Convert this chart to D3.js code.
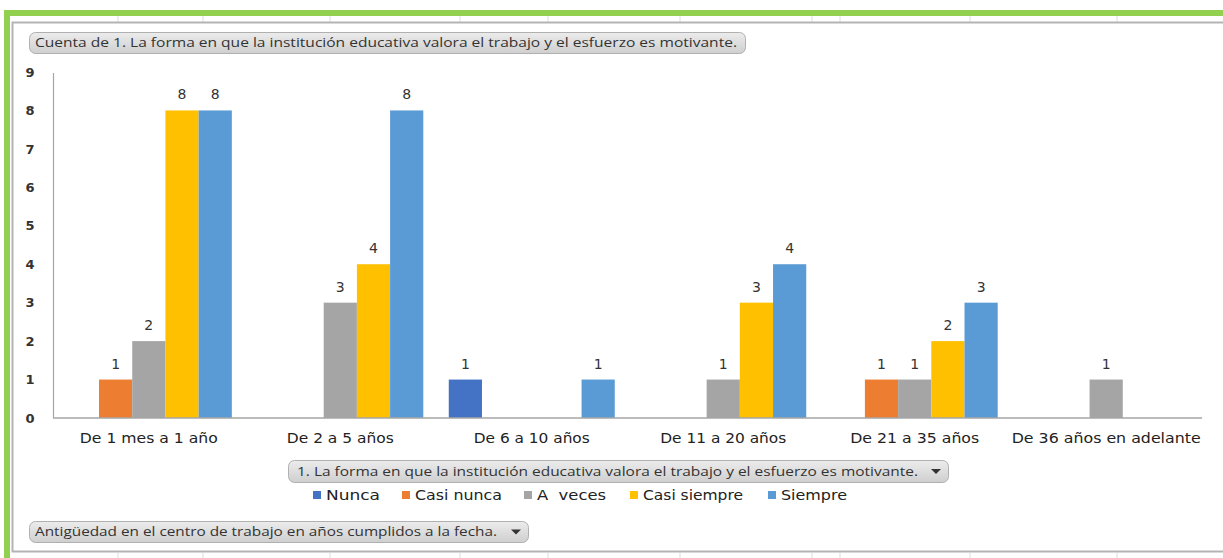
<!DOCTYPE html>
<html><head><meta charset="utf-8">
<script src="https://cdn.jsdelivr.net/npm/d3@7"></script>
<style>html,body{margin:0;padding:0;background:#fff;overflow:hidden}</style>
</head><body><svg id="c" width="1223" height="558"></svg>
<script>
const categories = ["De 1 mes a 1 año","De 2 a 5 años","De 6 a 10 años","De 11 a 20 años","De 21 a 35 años","De 36 años en adelante"];
const seriesNames = ["Nunca","Casi nunca","A  veces","Casi siempre","Siempre"];
const nunca       = [0,0,1,0,0,0];
const casiNunca   = [1,0,0,0,1,0];
const aVeces      = [2,3,0,1,1,1];
const casiSiempre = [8,4,0,3,2,0];
const siempre     = [8,8,1,4,3,0];
const yTicks = [0,1,2,3,4,5,6,7,8,9];
const colors = ["#4472C4","#ED7D31","#A5A5A5","#FFC000","#5B9BD5"];
const titleText = "Cuenta de 1. La forma en que la institución educativa valora el trabajo y el esfuerzo es motivante.";
const legendTitle = "1. La forma en que la institución educativa valora el trabajo y el esfuerzo es motivante.";
const axisTitle = "Antigüedad en el centro de trabajo en años cumplidos a la fecha.";

const series = [nunca,casiNunca,aVeces,casiSiempre,siempre];
const catLabelWidths = [138,107,116,126,129,189];
const legendWidths = [54,87,69,100,66];
const svg = d3.select("#c");
const FONT = "'DejaVu Sans', Verdana, sans-serif";

// spreadsheet background grid ticks
const gridX = [118,203,330,460,548,680,812,840,970,1117];
svg.selectAll("line.g").data(gridX).enter().append("line")
  .attr("x1",d=>d).attr("x2",d=>d).attr("y1",16).attr("y2",22).attr("stroke","#dcdcdc");
svg.selectAll("line.g2").data(gridX).enter().append("line")
  .attr("x1",d=>d).attr("x2",d=>d).attr("y1",553).attr("y2",558).attr("stroke","#dcdcdc");

// green selection border
svg.append("rect").attr("x",7).attr("y",13).attr("width",1230).attr("height",560)
  .attr("fill","none").attr("stroke","#92D050").attr("stroke-width",6);
// chart border
svg.append("rect").attr("x",12.5).attr("y",22.5).attr("width",1230).attr("height",529)
  .attr("fill","#fff").attr("stroke","#b4b4b4").attr("stroke-width",2);

const x0 = d3.scaleBand().domain(categories).range([53,1202]).paddingInner(0.133).paddingOuter(0.067);
const x1 = d3.scaleBand().domain(d3.range(5)).range([0,x0.bandwidth()]);
const y = d3.scaleLinear().domain([0,9]).range([418,72]);

// y tick labels
const yAxis = d3.axisLeft(y).tickValues(yTicks).tickSize(0).tickPadding(17).tickFormat(d3.format("d"));
const ya = svg.append("g").attr("transform","translate(53,0)").call(yAxis);
ya.select(".domain").remove();
ya.selectAll("text").attr("font-family",FONT).attr("font-weight","bold").attr("font-size",13).attr("fill","#333").attr("text-anchor","middle").attr("dx",-6);

// bars
const groups = svg.append("g").selectAll("g").data(categories).enter().append("g")
  .attr("transform",d=>`translate(${x0(d)},0)`);
groups.each(function(cat,ci){
  const g = d3.select(this);
  const vals = series.map((s,si)=>({si,v:s[ci]})).filter(d=>d.v>0);
  g.selectAll("rect").data(vals).enter().append("rect")
    .attr("x",d=>x1(d.si)).attr("width",x1.bandwidth())
    .attr("y",d=>y(d.v)).attr("height",d=>y(0)-y(d.v)).attr("fill",d=>colors[d.si]);
  g.selectAll("text").data(vals).enter().append("text")
    .attr("x",d=>x1(d.si)+x1.bandwidth()/2).attr("y",d=>y(d.v)-11)
    .attr("text-anchor","middle").attr("font-family",FONT)
    .attr("font-size",14).attr("fill","#333").text(d=>d.v);
});

// axes lines
svg.append("line").attr("x1",53.5).attr("x2",53.5).attr("y1",73).attr("y2",418).attr("stroke","#a6a6a6").attr("stroke-width",1.2);
const xAxis = d3.axisBottom(x0).tickSize(0).tickPadding(15);
const xa = svg.append("g").attr("transform","translate(0,418)").call(xAxis);
xa.select(".domain").attr("stroke","#a6a6a6").attr("stroke-width",1.5).attr("d","M53,0H1202");
xa.selectAll("text").attr("font-family",FONT).attr("font-size",14).attr("fill","#222")
  .attr("textLength",(d,i)=>catLabelWidths[i]).attr("lengthAdjust","spacingAndGlyphs");

// buttons
const defs = svg.append("defs");
const grad = defs.append("linearGradient").attr("id","bg").attr("x1",0).attr("x2",0).attr("y1",0).attr("y2",1);
grad.append("stop").attr("offset","0%").attr("stop-color","#ececec");
grad.append("stop").attr("offset","100%").attr("stop-color","#cfcfcf");
function button(x,y,w,h,text,tx,tw,arrow){
  svg.append("rect").attr("x",x+0.5).attr("y",y+0.5).attr("width",w).attr("height",h).attr("rx",6)
    .attr("fill","url(#bg)").attr("stroke","#b0b0b0");
  svg.append("text").attr("x",tx).attr("y",y+h/2+4.5).attr("font-family","Open Sans").attr("font-size",13)
    .attr("fill","#333").attr("textLength",tw).attr("lengthAdjust","spacingAndGlyphs").text(text);
  if(arrow){
    const ax=x+w-12, ay=y+h/2;
    svg.append("path").attr("d",`M${ax-5},${ay-2}L${ax+5},${ay-2}L${ax},${ay+3}Z`).attr("fill","#333");
  }
}
button(29,32,716,21,titleText,35,702,false);
button(288,460,660,22,legendTitle,297,621,true);
button(29,521,499,21,axisTitle,35,462,true);

// legend
const legX = [313,402,524,630,768];
const lg = svg.append("g").selectAll("g").data(seriesNames).enter().append("g")
  .attr("transform",(d,i)=>`translate(${legX[i]},495)`);
lg.append("rect").attr("x",0).attr("y",-4).attr("width",8).attr("height",8).attr("fill",(d,i)=>colors[i]);
lg.append("text").attr("x",13).attr("y",5).attr("font-family",FONT).attr("font-size",14)
  .attr("fill","#222").attr("xml:space","preserve")
  .attr("textLength",(d,i)=>legendWidths[i]).attr("lengthAdjust","spacingAndGlyphs").text(d=>d);
</script></body></html>
